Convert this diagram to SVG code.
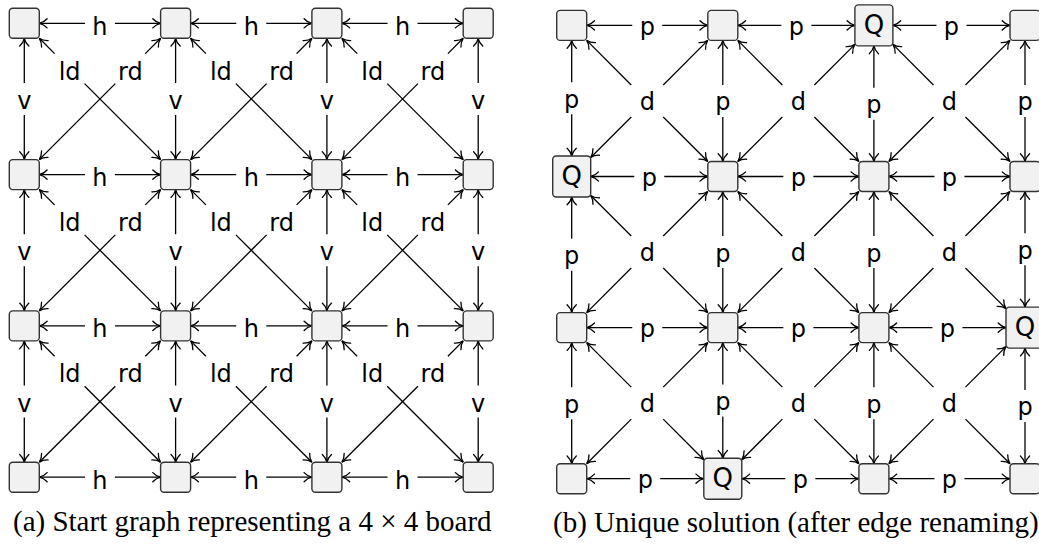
<svg xmlns="http://www.w3.org/2000/svg" width="1039" height="544" viewBox="0 0 1039 544">
<defs>
<style>
.node rect{fill:#f1f1f1;stroke:#333;stroke-width:1.4}
.edges line{stroke:#000;stroke-width:1.3;marker-end:url(#tip)}
.lbl{font-family:"DejaVu Sans",sans-serif;font-size:24px;text-anchor:middle;fill:#000}
.q{font-family:"DejaVu Sans",sans-serif;font-size:26px;text-anchor:middle;fill:#000}
.cap{font-family:"Liberation Serif",serif;font-size:29px;fill:#000}
</style>
<marker id="tip" markerUnits="userSpaceOnUse" orient="auto" refX="0" refY="0" markerWidth="10" markerHeight="10" overflow="visible">
<path d="M-7.8,-4.6 C-5.8,-2.4 -2.8,-0.6 0,0 C-2.8,0.6 -5.8,2.4 -7.8,4.6" fill="none" stroke="#000" stroke-width="1.3" stroke-linecap="round"/>
</marker>
</defs>
<rect width="1039" height="544" fill="#fff"/>

<!-- (a) start graph: connectors -->
<g id="edges-a" class="edges">
<!-- horizontal h edges -->
<g transform="translate(24.3,23.3)"><line x1="60.65" y1="0" x2="15" y2="0"/><line x1="90.65" y1="0" x2="136.3" y2="0"/><text class="lbl" x="75.65" y="11.4">h</text></g>
<g transform="translate(175.6,23.3)"><line x1="60.65" y1="0" x2="15" y2="0"/><line x1="90.65" y1="0" x2="136.3" y2="0"/><text class="lbl" x="75.65" y="11.4">h</text></g>
<g transform="translate(326.9,23.3)"><line x1="60.65" y1="0" x2="15" y2="0"/><line x1="90.65" y1="0" x2="136.3" y2="0"/><text class="lbl" x="75.65" y="11.4">h</text></g>
<g transform="translate(24.3,174.6)"><line x1="60.65" y1="0" x2="15" y2="0"/><line x1="90.65" y1="0" x2="136.3" y2="0"/><text class="lbl" x="75.65" y="11.4">h</text></g>
<g transform="translate(175.6,174.6)"><line x1="60.65" y1="0" x2="15" y2="0"/><line x1="90.65" y1="0" x2="136.3" y2="0"/><text class="lbl" x="75.65" y="11.4">h</text></g>
<g transform="translate(326.9,174.6)"><line x1="60.65" y1="0" x2="15" y2="0"/><line x1="90.65" y1="0" x2="136.3" y2="0"/><text class="lbl" x="75.65" y="11.4">h</text></g>
<g transform="translate(24.3,325.9)"><line x1="60.65" y1="0" x2="15" y2="0"/><line x1="90.65" y1="0" x2="136.3" y2="0"/><text class="lbl" x="75.65" y="11.4">h</text></g>
<g transform="translate(175.6,325.9)"><line x1="60.65" y1="0" x2="15" y2="0"/><line x1="90.65" y1="0" x2="136.3" y2="0"/><text class="lbl" x="75.65" y="11.4">h</text></g>
<g transform="translate(326.9,325.9)"><line x1="60.65" y1="0" x2="15" y2="0"/><line x1="90.65" y1="0" x2="136.3" y2="0"/><text class="lbl" x="75.65" y="11.4">h</text></g>
<g transform="translate(24.3,477.2)"><line x1="60.65" y1="0" x2="15" y2="0"/><line x1="90.65" y1="0" x2="136.3" y2="0"/><text class="lbl" x="75.65" y="11.4">h</text></g>
<g transform="translate(175.6,477.2)"><line x1="60.65" y1="0" x2="15" y2="0"/><line x1="90.65" y1="0" x2="136.3" y2="0"/><text class="lbl" x="75.65" y="11.4">h</text></g>
<g transform="translate(326.9,477.2)"><line x1="60.65" y1="0" x2="15" y2="0"/><line x1="90.65" y1="0" x2="136.3" y2="0"/><text class="lbl" x="75.65" y="11.4">h</text></g>
<!-- vertical v edges -->
<g transform="translate(24.3,23.3)"><line x1="0" y1="59.65" x2="0" y2="15"/><line x1="0" y1="91.65" x2="0" y2="136.3"/><text class="lbl" x="0" y="85.65">v</text></g>
<g transform="translate(24.3,174.6)"><line x1="0" y1="59.65" x2="0" y2="15"/><line x1="0" y1="91.65" x2="0" y2="136.3"/><text class="lbl" x="0" y="85.65">v</text></g>
<g transform="translate(24.3,325.9)"><line x1="0" y1="59.65" x2="0" y2="15"/><line x1="0" y1="91.65" x2="0" y2="136.3"/><text class="lbl" x="0" y="85.65">v</text></g>
<g transform="translate(175.6,23.3)"><line x1="0" y1="59.65" x2="0" y2="15"/><line x1="0" y1="91.65" x2="0" y2="136.3"/><text class="lbl" x="0" y="85.65">v</text></g>
<g transform="translate(175.6,174.6)"><line x1="0" y1="59.65" x2="0" y2="15"/><line x1="0" y1="91.65" x2="0" y2="136.3"/><text class="lbl" x="0" y="85.65">v</text></g>
<g transform="translate(175.6,325.9)"><line x1="0" y1="59.65" x2="0" y2="15"/><line x1="0" y1="91.65" x2="0" y2="136.3"/><text class="lbl" x="0" y="85.65">v</text></g>
<g transform="translate(326.9,23.3)"><line x1="0" y1="59.65" x2="0" y2="15"/><line x1="0" y1="91.65" x2="0" y2="136.3"/><text class="lbl" x="0" y="85.65">v</text></g>
<g transform="translate(326.9,174.6)"><line x1="0" y1="59.65" x2="0" y2="15"/><line x1="0" y1="91.65" x2="0" y2="136.3"/><text class="lbl" x="0" y="85.65">v</text></g>
<g transform="translate(326.9,325.9)"><line x1="0" y1="59.65" x2="0" y2="15"/><line x1="0" y1="91.65" x2="0" y2="136.3"/><text class="lbl" x="0" y="85.65">v</text></g>
<g transform="translate(478.2,23.3)"><line x1="0" y1="59.65" x2="0" y2="15"/><line x1="0" y1="91.65" x2="0" y2="136.3"/><text class="lbl" x="0" y="85.65">v</text></g>
<g transform="translate(478.2,174.6)"><line x1="0" y1="59.65" x2="0" y2="15"/><line x1="0" y1="91.65" x2="0" y2="136.3"/><text class="lbl" x="0" y="85.65">v</text></g>
<g transform="translate(478.2,325.9)"><line x1="0" y1="59.65" x2="0" y2="15"/><line x1="0" y1="91.65" x2="0" y2="136.3"/><text class="lbl" x="0" y="85.65">v</text></g>
<!-- diagonal ld / rd edges, one pair per cell -->
<g transform="translate(24.3,23.3)"><line x1="30.3" y1="30.3" x2="15" y2="15"/><line x1="60.3" y1="60.3" x2="136.3" y2="136.3"/><text class="lbl" x="45.3" y="56.5">ld</text><line x1="121" y1="30.3" x2="136.3" y2="15"/><line x1="91" y1="60.3" x2="15" y2="136.3"/><text class="lbl" x="106" y="56.5">rd</text></g>
<g transform="translate(175.6,23.3)"><line x1="30.3" y1="30.3" x2="15" y2="15"/><line x1="60.3" y1="60.3" x2="136.3" y2="136.3"/><text class="lbl" x="45.3" y="56.5">ld</text><line x1="121" y1="30.3" x2="136.3" y2="15"/><line x1="91" y1="60.3" x2="15" y2="136.3"/><text class="lbl" x="106" y="56.5">rd</text></g>
<g transform="translate(326.9,23.3)"><line x1="30.3" y1="30.3" x2="15" y2="15"/><line x1="60.3" y1="60.3" x2="136.3" y2="136.3"/><text class="lbl" x="45.3" y="56.5">ld</text><line x1="121" y1="30.3" x2="136.3" y2="15"/><line x1="91" y1="60.3" x2="15" y2="136.3"/><text class="lbl" x="106" y="56.5">rd</text></g>
<g transform="translate(24.3,174.6)"><line x1="30.3" y1="30.3" x2="15" y2="15"/><line x1="60.3" y1="60.3" x2="136.3" y2="136.3"/><text class="lbl" x="45.3" y="56.5">ld</text><line x1="121" y1="30.3" x2="136.3" y2="15"/><line x1="91" y1="60.3" x2="15" y2="136.3"/><text class="lbl" x="106" y="56.5">rd</text></g>
<g transform="translate(175.6,174.6)"><line x1="30.3" y1="30.3" x2="15" y2="15"/><line x1="60.3" y1="60.3" x2="136.3" y2="136.3"/><text class="lbl" x="45.3" y="56.5">ld</text><line x1="121" y1="30.3" x2="136.3" y2="15"/><line x1="91" y1="60.3" x2="15" y2="136.3"/><text class="lbl" x="106" y="56.5">rd</text></g>
<g transform="translate(326.9,174.6)"><line x1="30.3" y1="30.3" x2="15" y2="15"/><line x1="60.3" y1="60.3" x2="136.3" y2="136.3"/><text class="lbl" x="45.3" y="56.5">ld</text><line x1="121" y1="30.3" x2="136.3" y2="15"/><line x1="91" y1="60.3" x2="15" y2="136.3"/><text class="lbl" x="106" y="56.5">rd</text></g>
<g transform="translate(24.3,325.9)"><line x1="30.3" y1="30.3" x2="15" y2="15"/><line x1="60.3" y1="60.3" x2="136.3" y2="136.3"/><text class="lbl" x="45.3" y="56.5">ld</text><line x1="121" y1="30.3" x2="136.3" y2="15"/><line x1="91" y1="60.3" x2="15" y2="136.3"/><text class="lbl" x="106" y="56.5">rd</text></g>
<g transform="translate(175.6,325.9)"><line x1="30.3" y1="30.3" x2="15" y2="15"/><line x1="60.3" y1="60.3" x2="136.3" y2="136.3"/><text class="lbl" x="45.3" y="56.5">ld</text><line x1="121" y1="30.3" x2="136.3" y2="15"/><line x1="91" y1="60.3" x2="15" y2="136.3"/><text class="lbl" x="106" y="56.5">rd</text></g>
<g transform="translate(326.9,325.9)"><line x1="30.3" y1="30.3" x2="15" y2="15"/><line x1="60.3" y1="60.3" x2="136.3" y2="136.3"/><text class="lbl" x="45.3" y="56.5">ld</text><line x1="121" y1="30.3" x2="136.3" y2="15"/><line x1="91" y1="60.3" x2="15" y2="136.3"/><text class="lbl" x="106" y="56.5">rd</text></g>
</g>

<!-- (b) solution graph: connectors -->
<g id="edges-b" class="edges">
<!-- horizontal p edges -->
<line x1="632.25" y1="25.4" x2="586.7" y2="25.4"/><line x1="662.25" y1="25.4" x2="707.8" y2="25.4"/><text class="lbl" x="647.25" y="34.9">p</text>
<line x1="781.35" y1="25.4" x2="737.8" y2="25.4"/><line x1="811.35" y1="25.4" x2="854.9" y2="25.4"/><text class="lbl" x="796.35" y="34.9">p</text>
<line x1="936.45" y1="25.4" x2="892.9" y2="25.4"/><line x1="966.45" y1="25.4" x2="1010" y2="25.4"/><text class="lbl" x="951.45" y="34.9">p</text>
<line x1="634.25" y1="176.5" x2="590.7" y2="176.5"/><line x1="664.25" y1="176.5" x2="707.8" y2="176.5"/><text class="lbl" x="649.25" y="186">p</text>
<line x1="783.35" y1="176.5" x2="737.8" y2="176.5"/><line x1="813.35" y1="176.5" x2="858.9" y2="176.5"/><text class="lbl" x="798.35" y="186">p</text>
<line x1="934.45" y1="176.5" x2="888.9" y2="176.5"/><line x1="964.45" y1="176.5" x2="1010" y2="176.5"/><text class="lbl" x="949.45" y="186">p</text>
<line x1="632.25" y1="327.6" x2="586.7" y2="327.6"/><line x1="662.25" y1="327.6" x2="707.8" y2="327.6"/><text class="lbl" x="647.25" y="337.1">p</text>
<line x1="783.35" y1="327.6" x2="737.8" y2="327.6"/><line x1="813.35" y1="327.6" x2="858.9" y2="327.6"/><text class="lbl" x="798.35" y="337.1">p</text>
<line x1="932.45" y1="327.6" x2="888.9" y2="327.6"/><line x1="962.45" y1="327.6" x2="1006" y2="327.6"/><text class="lbl" x="947.45" y="337.1">p</text>
<line x1="630.25" y1="478.7" x2="586.7" y2="478.7"/><line x1="660.25" y1="478.7" x2="703.8" y2="478.7"/><text class="lbl" x="645.25" y="488.2">p</text>
<line x1="785.35" y1="478.7" x2="741.8" y2="478.7"/><line x1="815.35" y1="478.7" x2="858.9" y2="478.7"/><text class="lbl" x="800.35" y="488.2">p</text>
<line x1="934.45" y1="478.7" x2="888.9" y2="478.7"/><line x1="964.45" y1="478.7" x2="1010" y2="478.7"/><text class="lbl" x="949.45" y="488.2">p</text>
<!-- vertical p edges -->
<line x1="571.7" y1="82.2" x2="571.7" y2="40.4"/><line x1="571.7" y1="114.2" x2="571.7" y2="156"/><text class="lbl" x="571.7" y="107.7">p</text>
<line x1="571.7" y1="238.8" x2="571.7" y2="197"/><line x1="571.7" y1="270.8" x2="571.7" y2="312.6"/><text class="lbl" x="571.7" y="264.3">p</text>
<line x1="571.7" y1="387.15" x2="571.7" y2="342.6"/><line x1="571.7" y1="419.15" x2="571.7" y2="463.7"/><text class="lbl" x="571.7" y="412.65">p</text>
<line x1="722.8" y1="84.95" x2="722.8" y2="40.4"/><line x1="722.8" y1="116.95" x2="722.8" y2="161.5"/><text class="lbl" x="722.8" y="110.45">p</text>
<line x1="722.8" y1="236.05" x2="722.8" y2="191.5"/><line x1="722.8" y1="268.05" x2="722.8" y2="312.6"/><text class="lbl" x="722.8" y="261.55">p</text>
<line x1="722.8" y1="384.4" x2="722.8" y2="342.6"/><line x1="722.8" y1="416.4" x2="722.8" y2="458.2"/><text class="lbl" x="722.8" y="409.9">p</text>
<line x1="873.9" y1="87.7" x2="873.9" y2="45.9"/><line x1="873.9" y1="119.7" x2="873.9" y2="161.5"/><text class="lbl" x="873.9" y="113.2">p</text>
<line x1="873.9" y1="236.05" x2="873.9" y2="191.5"/><line x1="873.9" y1="268.05" x2="873.9" y2="312.6"/><text class="lbl" x="873.9" y="261.55">p</text>
<line x1="873.9" y1="387.15" x2="873.9" y2="342.6"/><line x1="873.9" y1="419.15" x2="873.9" y2="463.7"/><text class="lbl" x="873.9" y="412.65">p</text>
<line x1="1025" y1="84.95" x2="1025" y2="40.4"/><line x1="1025" y1="116.95" x2="1025" y2="161.5"/><text class="lbl" x="1025" y="110.45">p</text>
<line x1="1025" y1="233.3" x2="1025" y2="191.5"/><line x1="1025" y1="265.3" x2="1025" y2="307.1"/><text class="lbl" x="1025" y="258.8">p</text>
<line x1="1025" y1="389.9" x2="1025" y2="348.1"/><line x1="1025" y1="421.9" x2="1025" y2="463.7"/><text class="lbl" x="1025" y="415.4">p</text>
<!-- diagonal d edges: one label per cell, four arrows to its corners -->
<g transform="translate(647.25,100.95)"><line x1="-16" y1="-16" x2="-60.55" y2="-60.55"/><line x1="16" y1="-16" x2="60.55" y2="-60.55"/><line x1="-16" y1="16" x2="-56.55" y2="56.55"/><line x1="16" y1="16" x2="60.55" y2="60.55"/><text class="lbl" x="0" y="8.8">d</text></g>
<g transform="translate(798.35,100.95)"><line x1="-16" y1="-16" x2="-60.55" y2="-60.55"/><line x1="16" y1="-16" x2="56.55" y2="-56.55"/><line x1="-16" y1="16" x2="-60.55" y2="60.55"/><line x1="16" y1="16" x2="60.55" y2="60.55"/><text class="lbl" x="0" y="8.8">d</text></g>
<g transform="translate(949.45,100.95)"><line x1="-16" y1="-16" x2="-56.55" y2="-56.55"/><line x1="16" y1="-16" x2="60.55" y2="-60.55"/><line x1="-16" y1="16" x2="-60.55" y2="60.55"/><line x1="16" y1="16" x2="60.55" y2="60.55"/><text class="lbl" x="0" y="8.8">d</text></g>
<g transform="translate(647.25,252.05)"><line x1="-16" y1="-16" x2="-56.55" y2="-56.55"/><line x1="16" y1="-16" x2="60.55" y2="-60.55"/><line x1="-16" y1="16" x2="-60.55" y2="60.55"/><line x1="16" y1="16" x2="60.55" y2="60.55"/><text class="lbl" x="0" y="8.8">d</text></g>
<g transform="translate(798.35,252.05)"><line x1="-16" y1="-16" x2="-60.55" y2="-60.55"/><line x1="16" y1="-16" x2="60.55" y2="-60.55"/><line x1="-16" y1="16" x2="-60.55" y2="60.55"/><line x1="16" y1="16" x2="60.55" y2="60.55"/><text class="lbl" x="0" y="8.8">d</text></g>
<g transform="translate(949.45,252.05)"><line x1="-16" y1="-16" x2="-60.55" y2="-60.55"/><line x1="16" y1="-16" x2="60.55" y2="-60.55"/><line x1="-16" y1="16" x2="-60.55" y2="60.55"/><line x1="16" y1="16" x2="56.55" y2="56.55"/><text class="lbl" x="0" y="8.8">d</text></g>
<g transform="translate(647.25,403.15)"><line x1="-16" y1="-16" x2="-60.55" y2="-60.55"/><line x1="16" y1="-16" x2="60.55" y2="-60.55"/><line x1="-16" y1="16" x2="-60.55" y2="60.55"/><line x1="16" y1="16" x2="56.55" y2="56.55"/><text class="lbl" x="0" y="8.8">d</text></g>
<g transform="translate(798.35,403.15)"><line x1="-16" y1="-16" x2="-60.55" y2="-60.55"/><line x1="16" y1="-16" x2="60.55" y2="-60.55"/><line x1="-16" y1="16" x2="-56.55" y2="56.55"/><line x1="16" y1="16" x2="60.55" y2="60.55"/><text class="lbl" x="0" y="8.8">d</text></g>
<g transform="translate(949.45,403.15)"><line x1="-16" y1="-16" x2="-60.55" y2="-60.55"/><line x1="16" y1="-16" x2="56.55" y2="-56.55"/><line x1="-16" y1="16" x2="-60.55" y2="60.55"/><line x1="16" y1="16" x2="60.55" y2="60.55"/><text class="lbl" x="0" y="8.8">d</text></g>
</g>

<!-- (a) board cells -->
<g id="a-0-0" class="node"><rect x="9.3" y="8.3" width="30" height="30" rx="3.5"/></g>
<g id="a-1-0" class="node"><rect x="160.6" y="8.3" width="30" height="30" rx="3.5"/></g>
<g id="a-2-0" class="node"><rect x="311.9" y="8.3" width="30" height="30" rx="3.5"/></g>
<g id="a-3-0" class="node"><rect x="463.2" y="8.3" width="30" height="30" rx="3.5"/></g>
<g id="a-0-1" class="node"><rect x="9.3" y="159.6" width="30" height="30" rx="3.5"/></g>
<g id="a-1-1" class="node"><rect x="160.6" y="159.6" width="30" height="30" rx="3.5"/></g>
<g id="a-2-1" class="node"><rect x="311.9" y="159.6" width="30" height="30" rx="3.5"/></g>
<g id="a-3-1" class="node"><rect x="463.2" y="159.6" width="30" height="30" rx="3.5"/></g>
<g id="a-0-2" class="node"><rect x="9.3" y="310.9" width="30" height="30" rx="3.5"/></g>
<g id="a-1-2" class="node"><rect x="160.6" y="310.9" width="30" height="30" rx="3.5"/></g>
<g id="a-2-2" class="node"><rect x="311.9" y="310.9" width="30" height="30" rx="3.5"/></g>
<g id="a-3-2" class="node"><rect x="463.2" y="310.9" width="30" height="30" rx="3.5"/></g>
<g id="a-0-3" class="node"><rect x="9.3" y="462.2" width="30" height="30" rx="3.5"/></g>
<g id="a-1-3" class="node"><rect x="160.6" y="462.2" width="30" height="30" rx="3.5"/></g>
<g id="a-2-3" class="node"><rect x="311.9" y="462.2" width="30" height="30" rx="3.5"/></g>
<g id="a-3-3" class="node"><rect x="463.2" y="462.2" width="30" height="30" rx="3.5"/></g>

<!-- (b) board cells, queens marked Q -->
<g id="b-0-0" class="node"><rect x="556.7" y="10.4" width="30" height="30" rx="3.5"/></g>
<g id="b-1-0" class="node"><rect x="707.8" y="10.4" width="30" height="30" rx="3.5"/></g>
<g id="b-2-0" class="node"><rect x="854.9" y="4.9" width="38" height="41" rx="3.5"/><text class="q" x="873.9" y="34">Q</text></g>
<g id="b-3-0" class="node"><rect x="1010" y="10.4" width="30" height="30" rx="3.5"/></g>
<g id="b-0-1" class="node"><rect x="552.7" y="156" width="38" height="41" rx="3.5"/><text class="q" x="571.7" y="185.1">Q</text></g>
<g id="b-1-1" class="node"><rect x="707.8" y="161.5" width="30" height="30" rx="3.5"/></g>
<g id="b-2-1" class="node"><rect x="858.9" y="161.5" width="30" height="30" rx="3.5"/></g>
<g id="b-3-1" class="node"><rect x="1010" y="161.5" width="30" height="30" rx="3.5"/></g>
<g id="b-0-2" class="node"><rect x="556.7" y="312.6" width="30" height="30" rx="3.5"/></g>
<g id="b-1-2" class="node"><rect x="707.8" y="312.6" width="30" height="30" rx="3.5"/></g>
<g id="b-2-2" class="node"><rect x="858.9" y="312.6" width="30" height="30" rx="3.5"/></g>
<g id="b-3-2" class="node"><rect x="1006" y="307.1" width="38" height="41" rx="3.5"/><text class="q" x="1025" y="336.2">Q</text></g>
<g id="b-0-3" class="node"><rect x="556.7" y="463.7" width="30" height="30" rx="3.5"/></g>
<g id="b-1-3" class="node"><rect x="703.8" y="458.2" width="38" height="41" rx="3.5"/><text class="q" x="722.8" y="487.3">Q</text></g>
<g id="b-2-3" class="node"><rect x="858.9" y="463.7" width="30" height="30" rx="3.5"/></g>
<g id="b-3-3" class="node"><rect x="1010" y="463.7" width="30" height="30" rx="3.5"/></g>

<!-- captions -->
<text class="cap" x="13" y="531">(a) Start graph representing a 4 × 4 board</text>
<text class="cap" x="553" y="532">(b) Unique solution (after edge renaming)</text>
</svg>
